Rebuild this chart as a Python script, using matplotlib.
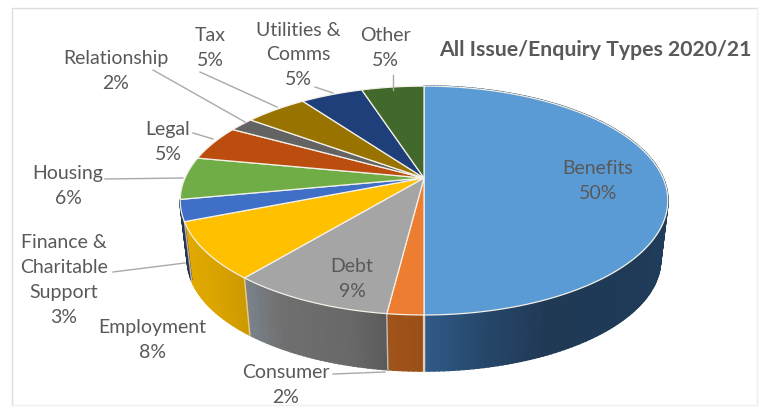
import numpy as np
import matplotlib
matplotlib.use("Agg")
import matplotlib.pyplot as plt
from matplotlib.colors import LinearSegmentedColormap

plt.rcParams["font.family"] = ["Lato", "DejaVu Sans"]

# Share of issues and enquiries, clockwise from twelve o'clock
categories = ["Benefits", "Consumer", "Debt", "Employment",
              "Finance &\nCharitable\nSupport", "Housing", "Legal",
              "Relationship", "Tax", "Utilities &\nComms", "Other"]
values = [50, 2, 9, 8, 3, 6, 5, 2, 5, 5, 5]
top_colors = ["#5b9bd5", "#ed7d31", "#a5a5a5", "#ffc000", "#3f6fc6", "#70ad47",
              "#bb4d0e", "#636363", "#997300", "#1f3f7a", "#43682b"]
# Side-wall shading, left to right across each visible wall; back slices have none
wall_colors = [["#2f5a88", "#26476a", "#203a56", "#1f3a57", "#1f3c5a"],
               ["#a0541a", "#9a4f17"],
               ["#7a828a", "#6f6f6f", "#6c6c6c", "#686868", "#5a5a5a"],
               ["#e2aa00", "#d9a300", "#cb9a00"],
               ["#2a3550", "#2a3550"],
               None, None, None, None, None, None]

# Label anchor (centre of text block) and leader line, in pixels
label_xy = [(598, 181), (286, 385), (352, 279), (152, 340), (64, 280),
            (68, 186), (168, 142), (116, 71), (210, 48), (298, 55), (385, 48)]
leaders = [None, [(333, 374), (385, 372)], None, None,
           [(113, 272), (185, 263)], [(105, 179), (183, 178)],
           [(193, 133), (213, 139)], [(153, 70), (245, 122)],
           [(200, 72), (277, 107)], [(315, 87), (333, 93)],
           [(393, 75), (393, 90)]]
title = "All Issue/Enquiry Types 2020/21"

W, H = 761, 408
CX, CY = 424, 178      # hub of the pie
RX, RY = 239, 110      # disc radii before perspective
TILT = 0.197           # perspective strength
DEPTH = 60             # drop of the lower rim
BASE_SCALE = 0.97      # lower rim shrink
TEXT = "#595959"
LEADER = "#a9a9a9"


def rim(theta, scale=1.0, drop=0.0):
    """Project clockwise-from-top angles onto the tilted disc, in pixels."""
    u, v = np.sin(theta), np.cos(theta)
    w = 1 + TILT * v
    return CX + scale * RX * u / w, CY + drop + scale * RY * -v / w


fig = plt.figure(figsize=(W / 100, H / 100), dpi=100, facecolor="white")
ax = fig.add_axes([0, 0, 1, 1])
ax.set_xlim(0, W)
ax.set_ylim(H, 0)
ax.axis("off")

# Chart border: darker along the top and left
ax.plot([12, 12, 757], [405, 8, 8], color="#dcdcdc", lw=1.0, zorder=1)
ax.plot([12, 757, 757], [405, 405, 8], color="#efefef", lw=1.0, zorder=1)

edges = np.concatenate([[0], np.cumsum(values)]) / np.sum(values) * 2 * np.pi

# Side walls first so the top surface covers the hidden parts
for a0, a1, stops in zip(edges[:-1], edges[1:], wall_colors):
    if stops is None:
        continue
    th = np.linspace(a0, a1, max(int(np.degrees(a1 - a0)), 2) + 1)
    xt, yt = rim(th)
    xb, yb = rim(th, BASE_SCALE, DEPTH)
    cmap = LinearSegmentedColormap.from_list("wall", stops)
    visible = (yb > CY + 20)
    lo, hi = xt[visible].min(), xt[visible].max()
    for i in range(len(th) - 1):
        t = np.clip(((xt[i] + xt[i + 1]) / 2 - lo) / max(hi - lo, 1), 0, 1)
        ax.fill([xt[i], xt[i + 1], xb[i + 1], xb[i]],
                [yt[i], yt[i + 1], yb[i + 1], yb[i]],
                facecolor=cmap(t), edgecolor=cmap(t), lw=1.3, zorder=2)

# Pale seams between the visible walls
for a in edges[:-1]:
    if np.pi * 0.99 < a < np.pi * 1.4:
        xt, yt = rim(a)
        xb, yb = rim(a, BASE_SCALE, DEPTH)
        ax.plot([xt, xb], [yt, yb], color="#e8d5c4", lw=1.0, alpha=0.8, zorder=3)
xt, yt = rim(np.pi)
xb, yb = rim(np.pi, BASE_SCALE, DEPTH)
ax.plot([xt, xb], [yt, yb], color="#e8cdb5", lw=1.6, zorder=3)

# Top surface
for a0, a1, color in zip(edges[:-1], edges[1:], top_colors):
    th = np.linspace(a0, a1, max(int(np.degrees(a1 - a0)) * 2, 4) + 1)
    x, y = rim(th)
    ax.fill(np.r_[CX, x], np.r_[CY, y], facecolor=color,
            edgecolor="#f4f1e8", lw=0.9, joinstyle="round", zorder=4)

# Leader lines
for seg in leaders:
    if seg:
        ax.plot(*zip(*seg), color=LEADER, lw=1.0, zorder=5)

# Data labels: name above percentage
for name, val, (x, y) in zip(categories, values, label_xy):
    ax.text(x, y, f"{name}\n{val}%", ha="center", va="center", fontsize=14,
            color=TEXT, linespacing=1.56, zorder=6)

ax.text(595.5, 50, title, ha="center", va="center", fontsize=15.3,
        fontweight="bold", color=TEXT, zorder=6)

fig.savefig("out.png", dpi=100, facecolor="white")
